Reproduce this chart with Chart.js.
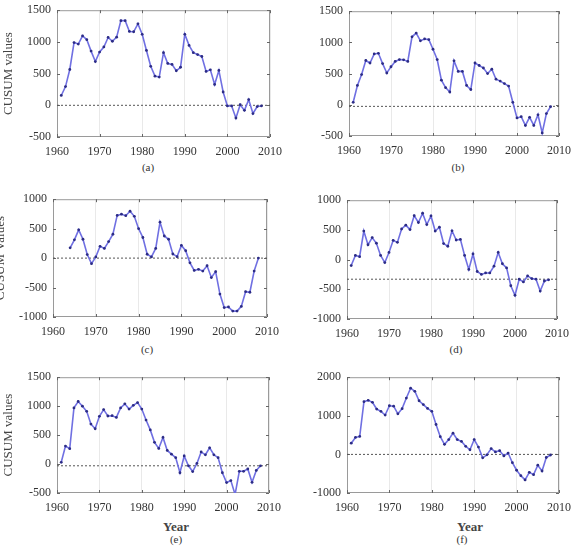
<!DOCTYPE html>
<html>
<head>
<meta charset="utf-8">
<script src="https://cdn.jsdelivr.net/npm/chart.js@4.4.1/dist/chart.umd.min.js"></script>
<style>
  html, body { margin: 0; padding: 0; background: #fff; }
  body { width: 585px; height: 546px; position: relative; overflow: hidden;
         font-family: "Liberation Serif", serif; color: #333; }
  canvas { position: absolute; }
  .cap { position: absolute; transform: translateX(-50%); line-height: 1; white-space: nowrap; }
  .sub { font-size: 11px; color: #333; }
  .xt { font-size: 13px; font-weight: bold; color: #444; }
</style>
</head>
<body>
<canvas id="pa"></canvas>
<canvas id="pb"></canvas>
<canvas id="pc"></canvas>
<canvas id="pd"></canvas>
<canvas id="pe"></canvas>
<canvas id="pf"></canvas>

<div class="cap sub" style="left:148px; top:162px;">(a)</div>
<div class="cap sub" style="left:458px; top:162px;">(b)</div>
<div class="cap sub" style="left:147px; top:344px;">(c)</div>
<div class="cap sub" style="left:456px; top:344px;">(d)</div>
<div class="cap xt" style="left:176px; top:520px;">Year</div>
<div class="cap sub" style="left:176px; top:534px;">(e)</div>
<div class="cap xt" style="left:470px; top:520px;">Year</div>
<div class="cap sub" style="left:462px; top:534px;">(f)</div>

<script>
// years on the x axis
const years1961 = [1961, 1962, 1963, 1964, 1965, 1966, 1967, 1968, 1969, 1970,
  1971, 1972, 1973, 1974, 1975, 1976, 1977, 1978, 1979, 1980,
  1981, 1982, 1983, 1984, 1985, 1986, 1987, 1988, 1989, 1990,
  1991, 1992, 1993, 1994, 1995, 1996, 1997, 1998, 1999, 2000,
  2001, 2002, 2003, 2004, 2005, 2006, 2007, 2008];
const years1964 = [1964, 1965, 1966, 1967, 1968, 1969, 1970,
  1971, 1972, 1973, 1974, 1975, 1976, 1977, 1978, 1979, 1980,
  1981, 1982, 1983, 1984, 1985, 1986, 1987, 1988, 1989, 1990,
  1991, 1992, 1993, 1994, 1995, 1996, 1997, 1998, 1999, 2000,
  2001, 2002, 2003, 2004, 2005, 2006, 2007, 2008];
const yearTicks = [1960, 1970, 1980, 1990, 2000, 2010];

// y tick labels
const ticks1500 = [-500, 0, 500, 1000, 1500];
const ticks1000 = [-1000, -500, 0, 500, 1000];
const ticks2000 = [-1000, 0, 1000, 2000];

// CUSUM series
const cusumA = [155, 295, 565, 990, 965, 1095, 1035, 855, 690, 840,
  920, 1070, 1010, 1075, 1335, 1335, 1165, 1160, 1285, 1120,
  865, 615, 460, 445, 830, 660, 645, 545, 600, 1120,
  945, 830, 800, 770, 535, 560, 330, 550, 210, -10,
  -10, -200, 10, -80, 90, -130, -20, -10];
const cusumB = [40, 310, 485, 710, 670, 815, 825, 660, 510, 610,
  695, 725, 720, 695, 1090, 1150, 1025, 1055, 1045, 890,
  725, 395, 275, 205, 705, 535, 535, 310, 245, 670,
  630, 590, 500, 570, 410, 380, 340, 300, 40, -210,
  -190, -330, -200, -330, -160, -450, -140, -30];
const cusumC = [175, 310, 480, 320, 60, -95, 20,
  200, 165, 280, 405, 725, 745, 720, 795, 710, 500,
  350, 65, 20, 165, 610, 375, 320, 70, 25, 215,
  125, -80, -210, -190, -220, -130, -330, -230, -610, -840,
  -830, -900, -900, -820, -570, -580, -220, 0];
const cusumD = [-100, 70, 50, 480, 250, 370, 275, 70, -50, 120,
  325, 290, 515, 580, 505, 740, 625, 780, 590, 735,
  480, 545, 270, 225, 485, 330, 340, 70, -165, 95,
  -200, -250, -225, -225, -110, 120, -70, -140, -440, -600,
  -330, -375, -275, -320, -330, -530, -360, -340];
const cusumE = [30, 310, 265, 970, 1080, 1000, 910, 690, 610, 825,
  940, 830, 835, 805, 970, 1040, 950, 1015, 1060, 950,
  760, 590, 375, 270, 460, 235, 170, 110, -150, 140,
  -30, -130, 10, 210, 160, 280, 160, 110, -150, -320,
  -285, -525, -125, -125, -85, -315, -110, -30];
const cusumF = [290, 440, 465, 1365, 1400, 1350, 1175, 1115, 1020, 1260,
  1250, 1050, 1185, 1460, 1715, 1635, 1390, 1290, 1190, 1115,
  775, 460, 260, 385, 550, 385, 335, 210, 120, 385,
  190, -90, -10, 150, 65, 95, -40, 35, -215, -410,
  -550, -660, -465, -525, -280, -430, -80, -15];

// dashed reference level of each panel
const refLevels = [0, -25, 0, -330, -30, 0];

const panels = [
  { id: 'pa', years: years1961, values: cusumA, ticks: ticks1500, title: 'CUSUM values', titlePad: 0, frame: [57, 7, 274, 137] },
  { id: 'pb', years: years1961, values: cusumB, ticks: ticks1500, title: '', titlePad: 0, frame: [349, 8, 563, 136] },
  { id: 'pc', years: years1964, values: cusumC, ticks: ticks1000, title: 'CUSUM Values', titlePad: -4, frame: [53, 196, 271, 317] },
  { id: 'pd', years: years1961, values: cusumD, ticks: ticks1000, title: '', titlePad: 0, frame: [347, 197, 561, 319] },
  { id: 'pe', years: years1961, values: cusumE, ticks: ticks1500, title: 'CUSUM values', titlePad: 0, frame: [57, 374, 273, 493] },
  { id: 'pf', years: years1961, values: cusumF, ticks: ticks2000, title: '', titlePad: 0, frame: [347, 374, 563, 493] }
];

const AXIS_W = 56, AXIS_H = 24, PAD_T = 10, PAD_R = 16;

const framePlugin = {
  id: 'frame',
  beforeDatasetsDraw(chart) {
    const { ctx, chartArea: a, scales } = chart;
    ctx.save();
    ctx.strokeStyle = '#9a9a9a';
    ctx.lineWidth = 1;
    ctx.strokeRect(a.left + 0.5, a.top + 0.5, a.right - a.left - 1, a.bottom - a.top - 1);
    ctx.strokeStyle = '#666';
    ctx.beginPath();
    scales.x.ticks.forEach(t => {
      const px = Math.round(scales.x.getPixelForValue(t.value)) + 0.5;
      ctx.moveTo(px, a.top); ctx.lineTo(px, a.top + 3);
      ctx.moveTo(px, a.bottom); ctx.lineTo(px, a.bottom - 3);
    });
    scales.y.ticks.forEach(t => {
      const py = Math.round(scales.y.getPixelForValue(t.value)) + 0.5;
      ctx.moveTo(a.left, py); ctx.lineTo(a.left + 3, py);
      ctx.moveTo(a.right, py); ctx.lineTo(a.right - 3, py);
    });
    ctx.stroke();
    ctx.restore();
  }
};

panels.forEach((p, i) => {
  const [L, T, R, B] = p.frame;
  const canvas = document.getElementById(p.id);
  const w = (R - L) + AXIS_W + PAD_R;
  const h = (B - T) + PAD_T + AXIS_H;
  canvas.width = w; canvas.height = h;
  canvas.style.left = (L - AXIS_W) + 'px';
  canvas.style.top = (T - PAD_T) + 'px';
  canvas.style.width = w + 'px';
  canvas.style.height = h + 'px';

  const points = p.years.map((yr, k) => ({ x: yr, y: p.values[k] }));
  const ref = refLevels[i];
  const x0 = yearTicks[0], x1 = yearTicks[yearTicks.length - 1];

  new Chart(canvas, {
    type: 'line',
    data: {
      datasets: [
        {
          data: points,
          borderColor: 'rgb(112, 112, 226)',
          borderWidth: 1.6,
          pointRadius: 1.4,
          pointBorderWidth: 0,
          pointBackgroundColor: '#2c2c85',
          tension: 0
        },
        {
          data: [{ x: x0, y: ref }, { x: x1, y: ref }],
          borderColor: '#555',
          borderWidth: 1,
          borderDash: [2, 2],
          pointRadius: 0
        }
      ]
    },
    options: {
      responsive: false,
      animation: false,
      layout: { padding: { left: 0, top: PAD_T, right: PAD_R, bottom: 0 } },
      plugins: { legend: { display: false }, tooltip: { enabled: false } },
      scales: {
        x: {
          type: 'linear',
          min: x0,
          max: x1,
          afterBuildTicks: s => { s.ticks = yearTicks.map(v => ({ value: v })); },
          afterFit: s => { s.height = AXIS_H; },
          grid: { color: '#e9e9e9', drawTicks: false },
          border: { display: false },
          ticks: {
            padding: 8,
            color: '#333',
            font: { family: 'Liberation Serif', size: 12 },
            callback: v => String(v),
            maxRotation: 0
          }
        },
        y: {
          min: p.ticks[0],
          max: p.ticks[p.ticks.length - 1],
          afterBuildTicks: s => { s.ticks = p.ticks.map(v => ({ value: v })); },
          afterFit: s => { s.width = AXIS_W; },
          grid: { display: false, drawTicks: false },
          border: { display: false },
          ticks: {
            padding: 6,
            color: '#333',
            font: { family: 'Liberation Serif', size: 12 },
            callback: v => String(v)
          },
          title: {
            display: p.title !== '',
            text: p.title,
            color: '#444',
            padding: { top: p.titlePad, bottom: 0 },
            font: { family: 'Liberation Serif', size: 13 }
          }
        }
      }
    },
    plugins: [framePlugin]
  });
});
</script>
</body>
</html>
